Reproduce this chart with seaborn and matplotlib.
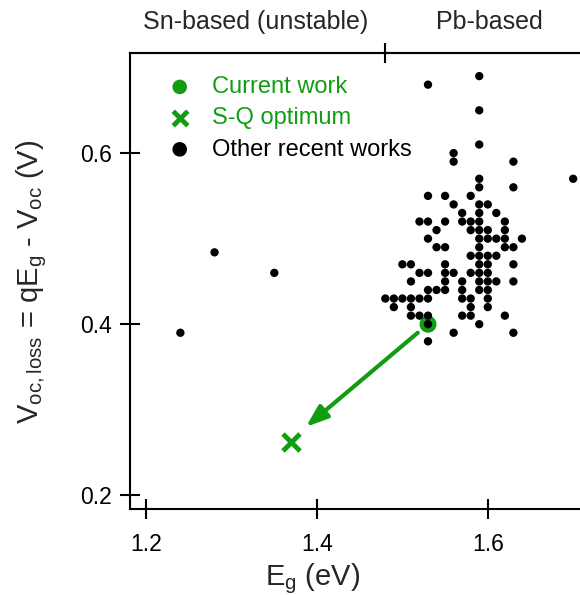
import matplotlib
matplotlib.use("Agg")
import matplotlib.pyplot as plt
import seaborn as sns
import pandas as pd

# ---- data ----
other_eg = [1.24, 1.28, 1.35,
            1.59, 1.53, 1.59, 1.59, 1.56, 1.56, 1.63, 1.59, 1.70, 1.59, 1.63,
            1.53, 1.55, 1.58, 1.56, 1.59, 1.60, 1.57, 1.59, 1.61,
            1.52, 1.53, 1.55, 1.57, 1.58, 1.59, 1.62,
            1.54, 1.58, 1.59, 1.60, 1.62,
            1.53, 1.59, 1.60, 1.61, 1.62, 1.64,
            1.54, 1.55, 1.59, 1.62, 1.63,
            1.58, 1.59, 1.60, 1.61,
            1.50, 1.51, 1.55, 1.59, 1.60, 1.63,
            1.52, 1.53, 1.55, 1.56, 1.58, 1.59, 1.60,
            1.51, 1.55, 1.57, 1.59, 1.60, 1.61, 1.63,
            1.53, 1.54, 1.55, 1.57, 1.59, 1.60,
            1.48, 1.49, 1.50, 1.51, 1.52, 1.53, 1.57, 1.58, 1.60,
            1.49, 1.51, 1.58, 1.60,
            1.51, 1.52, 1.53, 1.57, 1.58, 1.62,
            1.53, 1.59,
            1.56, 1.63,
            1.53]
other_vloss = [0.39, 0.484, 0.46,
               0.69, 0.68, 0.65, 0.61, 0.60, 0.59, 0.59, 0.57, 0.57, 0.56, 0.56,
               0.55, 0.55, 0.55, 0.54, 0.54, 0.54, 0.53, 0.53, 0.53,
               0.52, 0.52, 0.52, 0.52, 0.52, 0.52, 0.52,
               0.51, 0.51, 0.51, 0.51, 0.51,
               0.50, 0.50, 0.50, 0.50, 0.50, 0.50,
               0.49, 0.49, 0.49, 0.49, 0.49,
               0.48, 0.48, 0.48, 0.48,
               0.47, 0.47, 0.47, 0.47, 0.47, 0.47,
               0.46, 0.46, 0.46, 0.46, 0.46, 0.46, 0.46,
               0.45, 0.45, 0.45, 0.45, 0.45, 0.45, 0.45,
               0.44, 0.44, 0.44, 0.44, 0.44, 0.44,
               0.43, 0.43, 0.43, 0.43, 0.43, 0.43, 0.43, 0.43, 0.43,
               0.42, 0.42, 0.42, 0.42,
               0.41, 0.41, 0.41, 0.41, 0.41, 0.41,
               0.40, 0.40,
               0.39, 0.39,
               0.38]
current_eg = [1.53]
current_vloss = [0.40]
sq_eg = [1.369]
sq_vloss = [0.262]
arrow_start = (1.518, 0.390)
arrow_end = (1.387, 0.280)
boundary_eg = 1.48
x_ticks = [1.2, 1.4, 1.6]
y_ticks = [0.2, 0.4, 0.6]
labels = ["Current work", "S-Q optimum", "Other recent works"]
region_labels = ["Sn-based (unstable)", "Pb-based"]

GREEN = "#129c12"

sns.set_style("ticks")
plt.rcParams["font.family"] = ["Liberation Sans", "DejaVu Sans"]
plt.rcParams["mathtext.default"] = "regular"

fig = plt.figure(figsize=(5.8, 5.95), dpi=100)
ax = fig.add_axes([130/580, 86/595, 450/580, 456/595])

df_other = pd.DataFrame({"Eg": other_eg, "V": other_vloss})
df_cur = pd.DataFrame({"Eg": current_eg, "V": current_vloss})
df_sq = pd.DataFrame({"Eg": sq_eg, "V": sq_vloss})

sns.scatterplot(data=df_cur, x="Eg", y="V", ax=ax, color=GREEN, s=150,
                marker="o", edgecolor="none", label=labels[0], zorder=2)
sns.scatterplot(data=df_sq, x="Eg", y="V", ax=ax, color=GREEN, s=150,
                marker="x", linewidth=3.5, label=labels[1], zorder=3)
sns.scatterplot(data=df_other, x="Eg", y="V", ax=ax, color="black", s=36,
                marker="o", edgecolor="none", label=labels[2], zorder=4)

ax.annotate("", xy=arrow_end, xytext=arrow_start,
            arrowprops=dict(arrowstyle="-|>,head_length=0.6,head_width=0.22",
                            color=GREEN, lw=3,
                            mutation_scale=22, shrinkA=0, shrinkB=0))

ax.set_xlim(1.181, 1.708)
ax.set_ylim(0.184, 0.717)
ax.set_xticks(x_ticks)
ax.set_yticks(y_ticks)
ax.set_xticklabels([f"{t:.1f}" for t in x_ticks])
ax.set_yticklabels([f"{t:.1f}" for t in y_ticks])
ax.tick_params(axis="both", direction="inout", length=14, width=1.5,
               labelsize=16.5, color="black", labelcolor="black")
ax.tick_params(axis="x", pad=10)
ax.tick_params(axis="y", pad=6)

for side in ["left", "bottom", "top"]:
    ax.spines[side].set_linewidth(1.5)
    ax.spines[side].set_color("black")
ax.spines["right"].set_visible(False)

top = ax.secondary_xaxis("top")
top.set_xticks([boundary_eg])
top.set_xticklabels([""])
top.tick_params(direction="inout", length=14, width=1.5, color="black")
top.spines["top"].set_linewidth(1.5)

ax.text((256 - 130) / 450, 1 + (53 - 22) / 456, region_labels[0],
        transform=ax.transAxes, ha="center", va="center", fontsize=18)
ax.text((489 - 130) / 450, 1 + (53 - 22) / 456, region_labels[1],
        transform=ax.transAxes, ha="center", va="center", fontsize=18)

ax.set_xlabel("$E_g$ (eV)", fontsize=21)
ax.xaxis.set_label_coords((313 - 130) / 450, -(585 - 509) / 456)
ax.xaxis.label.set_va("baseline")
ax.set_ylabel("$V_{oc,loss}$ = q$E_g$ - $V_{oc}$ (V)", fontsize=21)
ax.yaxis.set_label_coords(-(130 - 32) / 450, (509 - 282) / 456)
ax.yaxis.label.set_va("center")

leg = ax.legend(loc="upper left", bbox_to_anchor=(0.058, 0.97), frameon=False,
                fontsize=17, handletextpad=0.78, labelspacing=0.39,
                borderaxespad=0, handlelength=1.2,
                labelcolor=[GREEN, GREEN, "black"])
for h in leg.legend_handles:
    h.set_sizes([110])

fig.savefig("out.png", dpi=100)
